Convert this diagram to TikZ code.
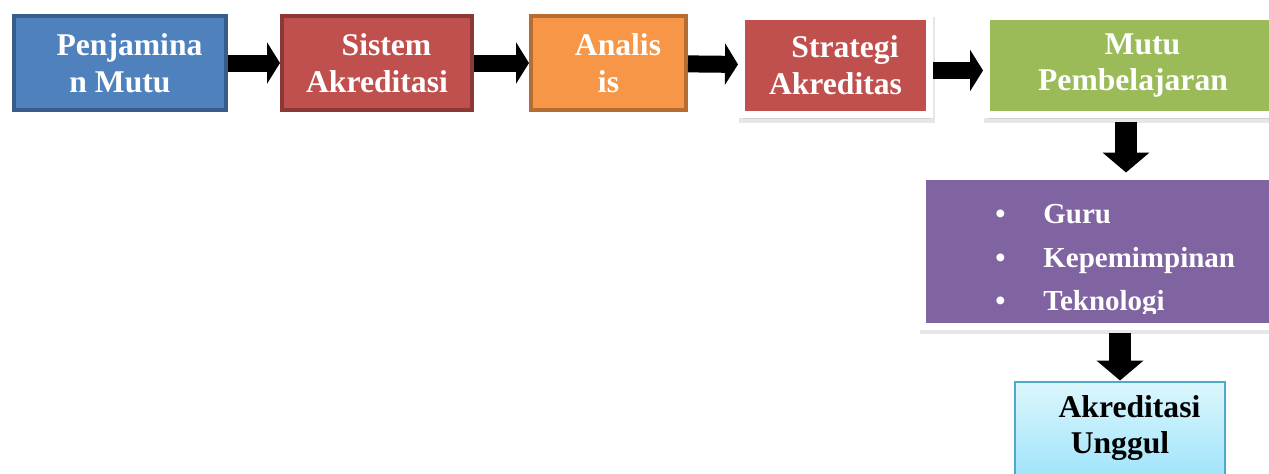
\documentclass[tikz,border=0pt]{standalone}
\usepackage{fontspec}
\setmainfont{Liberation Serif}
\usetikzlibrary{arrows.meta, shadows}

\definecolor{blueF}{HTML}{4F81BD}
\definecolor{blueD}{HTML}{385D8A}
\definecolor{redF}{HTML}{C0504D}
\definecolor{redD}{HTML}{8C3836}
\definecolor{orangeF}{HTML}{F79646}
\definecolor{orangeD}{HTML}{B66D31}
\definecolor{greenF}{HTML}{9BBB59}
\definecolor{purpleF}{HTML}{8064A2}
\definecolor{cyanT}{HTML}{DCF6FD}
\definecolor{cyanB}{HTML}{A2E5FA}
\definecolor{cyanD}{HTML}{4BACC6}

\begin{document}
\begin{tikzpicture}[font=\fontsize{18}{21}\selectfont\bfseries,
  box/.style={draw,rectangle,line width=0.08cm,text=white,align=center,minimum height=1.88cm,inner sep=0pt},
  framebox/.style={draw=white,rectangle,line width=0.14cm,text=white,align=center,minimum height=1.96cm,inner sep=0pt,
    drop shadow={shadow xshift=0.03cm,shadow yshift=-0.08cm,opacity=0.2,draw=black!50,line width=0.16cm}},
  rarrow/.style={line width=0.34cm,-{Triangle[length=0.26cm,width=0.82cm]}},
  darrow/.style={line width=0.44cm,-{Triangle[length=0.4cm,width=0.92cm]}}]
  \useasboundingbox (0,0) rectangle (25.38,-9.46);

  \node (pen) at (2.4,-1.26) [box,draw=blueD,fill=blueF,minimum width=4.24cm] {\hspace*{0.38cm}Penjamina\\n Mutu};
  \node (sis) at (7.54,-1.26) [box,draw=redD,fill=redF,minimum width=3.8cm] {\hspace*{0.38cm}Sistem\\Akreditasi};
  \node (ana) at (12.17,-1.26) [box,draw=orangeD,fill=orangeF,minimum width=3.1cm] {\hspace*{0.38cm}Analis\\is};
  \node (str) at (16.71,-1.31) [framebox,fill=redF,minimum width=3.76cm] {\hspace*{0.38cm}Strategi\\Akreditas};
  \node (mut) at (22.66,-1.31) [framebox,fill=greenF,minimum width=5.86cm] {\hspace*{0.38cm}Mutu\\Pembelajaran};
  \node (pur) at (22.12,-5.02) [framebox,fill=purpleF,minimum width=7.36cm,minimum height=3.0cm] {};
  \node (akr) at (22.4,-8.56) [draw=cyanD,line width=0.04cm,rectangle,top color=cyanT,bottom color=cyanB,
    text=black,align=center,minimum width=4.2cm,minimum height=1.86cm,inner sep=0pt] {\hspace*{0.38cm}Akreditasi\\Unggul};

  % list in the purple box, cut at the bottom
  \begin{scope}
    \clip (19,-3.6) rectangle (25.38,-6.26);
    \node (guru) at (19.9,-4.46) [anchor=base west,inner sep=0pt,text=white,font=\fontsize{16.5}{20}\selectfont\bfseries]
      {\makebox[0.96cm][l]{\textbullet}Guru};
    \node (kep) at (19.9,-5.34) [anchor=base west,inner sep=0pt,text=white,font=\fontsize{16.5}{20}\selectfont\bfseries]
      {\makebox[0.96cm][l]{\textbullet}Kepemimpinan};
    \node (tek) at (19.9,-6.2) [anchor=base west,inner sep=0pt,text=white,font=\fontsize{16.5}{20}\selectfont\bfseries]
      {\makebox[0.96cm][l]{\textbullet}Teknologi};
  \end{scope}

  \draw[rarrow] (pen) -- (sis);
  \draw[rarrow] (sis) -- (ana);
  \draw[rarrow] (ana) -- (str);
  \draw[rarrow] ([yshift=-0.1cm]str.east) -- ([yshift=-0.1cm]mut.west);
  \draw[darrow] ([xshift=-0.14cm,yshift=-0.07cm]mut.south) -- ([xshift=-0.14cm]mut.south |- pur.north);
  \draw[darrow] ([yshift=-0.07cm]akr.north |- pur.south) -- (akr.north);
\end{tikzpicture}
\end{document}
